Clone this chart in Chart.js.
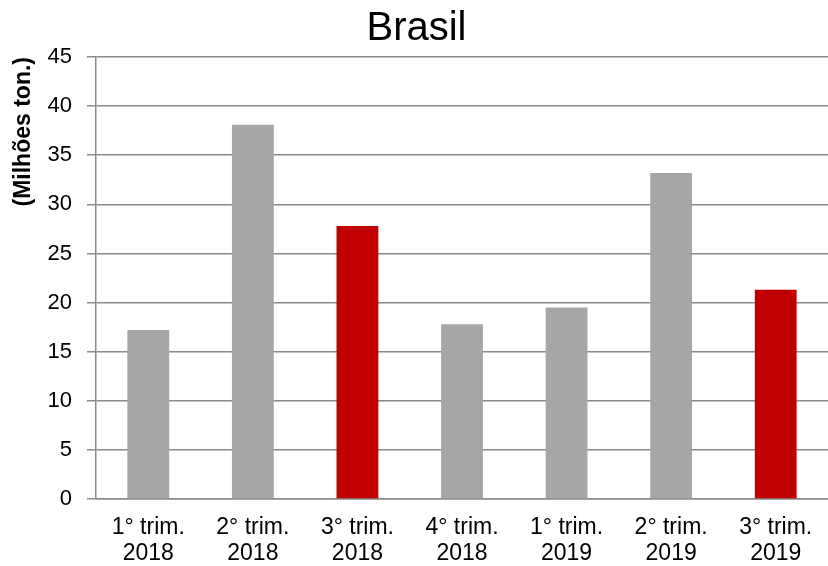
<!DOCTYPE html>
<html>
<head>
<meta charset="utf-8">
<script src="https://cdn.jsdelivr.net/npm/chart.js@4/dist/chart.umd.min.js"></script>
<style>
  html, body { margin: 0; padding: 0; background: #fff; }
  #wrap { width: 828px; height: 566px; }
</style>
</head>
<body>
<div id="wrap"><canvas id="chart"></canvas></div>
<script>
// Data
const quarters = [
  ['1° trim.', '2018'], ['2° trim.', '2018'], ['3° trim.', '2018'], ['4° trim.', '2018'],
  ['1° trim.', '2019'], ['2° trim.', '2019'], ['3° trim.', '2019']
];
const volumes = [17.2, 38.1, 27.8, 17.8, 19.5, 33.2, 21.3];
const highlighted = [false, false, true, false, false, false, true];

const GREY = '#a6a6a6';
const RED = '#c00000';
const LINE = '#8a8a8a';
const FONT = "'Liberation Sans', Arial, sans-serif";

new Chart(document.getElementById('chart'), {
  type: 'bar',
  data: {
    labels: quarters,
    datasets: [{
      label: 'Brasil',
      data: volumes,
      backgroundColor: highlighted.map(h => h ? RED : GREY),
      borderWidth: 0,
      categoryPercentage: 1,
      barPercentage: 0.4
    }]
  },
  options: {
    responsive: true,
    maintainAspectRatio: false,
    animation: false,
    layout: { padding: { left: 0, right: -5, top: 0, bottom: 0 } },
    plugins: {
      legend: { display: false },
      tooltip: { enabled: false },
      title: {
        display: true,
        text: 'Brasil',
        color: '#000',
        font: { family: FONT, size: 40, weight: 'normal', lineHeight: 1.2 },
        padding: { top: 5, bottom: 4 }
      }
    },
    scales: {
      x: {
        grid: { display: false, drawTicks: false },
        border: { display: true, color: LINE, width: 1.5 },
        ticks: {
          color: '#000',
          padding: 15,
          maxRotation: 0,
          autoSkip: false,
          font: { family: FONT, size: 23, lineHeight: 1.15 }
        },
        afterFit: s => { s.height = 67; }
      },
      y: {
        min: 0,
        max: 45,
        ticks: {
          stepSize: 5,
          color: '#000',
          padding: 15,
          font: { family: FONT, size: 22 }
        },
        grid: { color: LINE, lineWidth: 1.5, tickLength: 9 },
        border: { display: true, color: LINE, width: 1.5 },
        title: {
          display: true,
          text: '(Milhões ton.)',
          align: 'end',
          color: '#000',
          font: { family: FONT, size: 23, weight: 'bold', lineHeight: 1.2 },
          padding: { top: 10, bottom: 0 }
        },
        afterFit: s => { s.width = 96; }
      }
    }
  }
});
</script>
</body>
</html>
